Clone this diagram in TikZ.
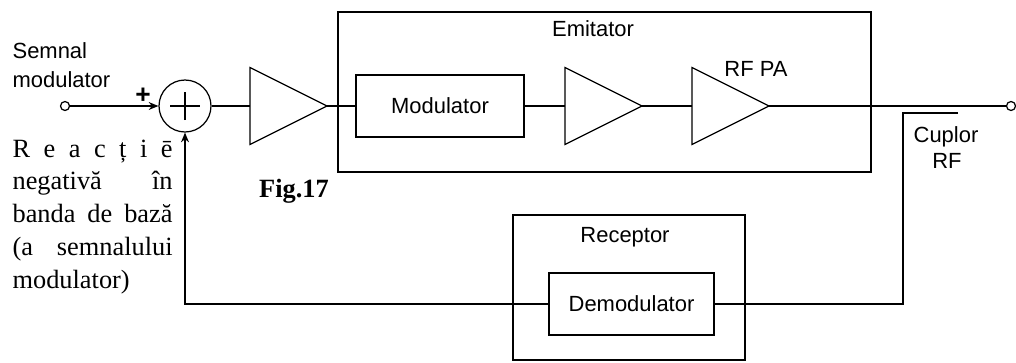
\documentclass[tikz,border=0pt]{standalone}
\usepackage{fontspec}
\setmainfont{Liberation Serif}
\setsansfont{Liberation Sans}
\usetikzlibrary{arrows.meta}

\begin{document}
\begin{tikzpicture}[x=0.02cm, y=-0.02cm, line width=0.7pt,
    lbl/.style={font=\sffamily\fontsize{12.5}{16.4}\selectfont},
    blockbox/.style={draw, rectangle, inner sep=0pt, lbl},
    port/.style={draw, circle, inner sep=0pt, minimum size=0.18cm},
    sig/.style={-{Stealth[length=5.5pt, width=4.5pt]}}]
    \useasboundingbox (0,0) rectangle (1016,362);
    \def\ampw{77}    % amplifier length (px)
    \def\amph{38.5}  % amplifier half height
    \def\yline{106}  % main signal line

    % Outer boxes: Emitator + Receptor
    \node[draw, minimum width=10.66cm, minimum height=3.2cm] (emit) at (604.5,92) {};
    \node[draw, minimum width=4.64cm, minimum height=2.9cm] (recv) at (629,287.5) {};
    \node[lbl, anchor=base] at (593,36) {Emitator};
    \node[lbl, anchor=base] at (625,242) {Receptor};

    % Ports + summing junction
    \node[port] (in) at (65,\yline) {};
    \node[port] (out) at (1011,\yline) {};
    \node[draw, circle, minimum size=1.04cm, inner sep=0pt] (sum) at (185,\yline) {};
    \draw ([xshift=-0.3cm]sum.center) -- ([xshift=0.3cm]sum.center)
          ([yshift=-0.28cm]sum.center) -- ([yshift=0.28cm]sum.center);
    \node[font=\sffamily\bfseries\fontsize{15}{15}\selectfont, inner sep=0pt] at (143,96) {+};

    % Amplifiers (triangles)
    \foreach \n/\x in {ampA/250, ampB/565, ampC/692} {
      \draw (\x,\yline-\amph) -- (\x+\ampw,\yline) coordinate (\n-out)
            -- (\x,\yline+\amph) -- cycle;
      \coordinate (\n-in) at (\x,\yline);
    }
    \node[lbl, anchor=base] at (756,76) {RF PA};

    % Modulator + Demodulator
    \node[blockbox, minimum width=3.36cm, minimum height=1.24cm] (mod) at (440,\yline) {Modulator};
    \node[blockbox, minimum width=3.3cm, minimum height=1.24cm] (demod) at (631.5,304) {Demodulator};

    % Forward path
    \draw[sig] (in) -- (sum);
    \draw (sum) -- (ampA-in);
    \draw (ampA-out) -- (mod);
    \draw (mod) -- (ampB-in);
    \draw (ampB-out) -- (ampC-in);
    \draw (ampC-out) -- (out);

    % RF coupler + baseband feedback
    \coordinate (cplA) at (958,113);
    \coordinate (cplB) at (903,113);
    \draw (cplA) -- (cplB) |- (demod.east);
    \draw[sig] (demod.west) -| (sum.south);
    \node[lbl, anchor=base] at (946,142) {Cuplor};
    \node[lbl, anchor=base] at (947,168) {RF};

    % Left labels (base = last line)
    \node[lbl, align=left, anchor=base west, inner sep=0pt] at (12,87) {Semnal\\modulator};
    \node[font=\fontsize{15}{18.6}\selectfont, align=left, anchor=base west, inner sep=0pt] at (12,288)
      {\makebox[3.2cm][s]{R e a c ț i ē}\\
       \makebox[3.2cm][s]{negativă  în}\\
       \makebox[3.2cm][s]{banda de bază}\\
       \makebox[3.2cm][s]{(a semnalului}\\
       modulator)};
    \node[font=\bfseries\fontsize{15}{18}\selectfont, anchor=base] at (294,197) {Fig.17};
\end{tikzpicture}
\end{document}
